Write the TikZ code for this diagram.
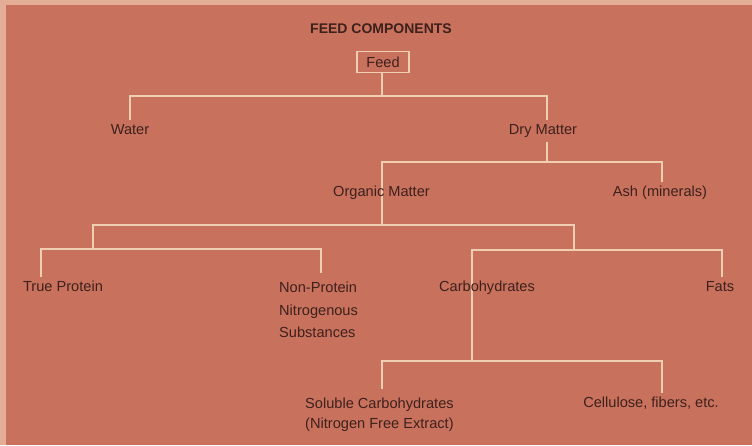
\documentclass[tikz,border=0pt]{standalone}
\usepackage{fontspec}
\setmainfont{Liberation Sans}
\definecolor{bg}{RGB}{200,114,94}
\definecolor{edge}{RGB}{228,174,150}
\definecolor{ln}{RGB}{240,206,178}
\definecolor{ink}{RGB}{62,32,28}
\begin{document}
\begin{tikzpicture}[x=1pt,y=-1pt,
  conn/.style={draw=ln,line width=1.8pt},
  lbl/.style={text=ink,font=\fontsize{14.6}{19}\selectfont,inner xsep=1pt,inner ysep=4pt,text height=10.5pt,text depth=3pt},
  multi/.style={text=ink,align=left,inner sep=0pt,anchor=north west},
  title/.style={text=ink,font=\fontsize{14}{16}\selectfont\bfseries},
  feedbox/.style={draw=ln,line width=1.6pt,fill=bg,text=ink,font=\fontsize{14.6}{17}\selectfont,minimum width=52pt,minimum height=21pt,inner sep=0pt}]
\fill[edge] (0,0) rectangle (752,445);
\fill[bg] (6,5) rectangle (752,445);
\useasboundingbox (0,0) rectangle (752,445);

% junctions
\coordinate (jF) at (382,96);
\coordinate (jD) at (547,162);
\coordinate (jO) at (382,225);
\coordinate (jL) at (93,249);
\coordinate (jR) at (574,250);
\coordinate (jC) at (472,361);

% nodes
\node[title] (ttl) at (381,29) {FEED COMPONENTS};
\node[feedbox] (feed) at (383,62) {Feed};
\node[lbl] (water) at (130,131) {Water};
\node[lbl] (dry) at (543,131) {Dry Matter};
\node[lbl] (org) at (381.5,193) {};
\node[lbl] (ash) at (660,193) {Ash (minerals)};
\node[lbl] (tp) at (63,288) {True Protein};
\node[multi,font=\fontsize{14.6}{22.5}\selectfont] (npn) at (279,282) {Non-Protein\\Nitrogenous\\Substances};
\node[lbl] (carb) at (487,288) {};
\node[lbl] (fats) at (720,288) {Fats};
\node[multi,font=\fontsize{14.6}{19.5}\selectfont] (sol) at (305,398) {Soluble Carbohydrates\\(Nitrogen Free Extract)};
\node[lbl] (cell) at (651,404) {Cellulose, fibers, etc.};

% connectors
\draw[conn] (feed.south -| jF) -- (jF);
\draw[conn] (water.north) |- (jF) -| ([xshift=4pt]dry.north);
\draw[conn] ([xshift=4pt]dry.south) -- (jD);
\draw[conn] (jO) |- (jD) -| ([xshift=2pt]ash.north);
\draw[conn] (jL) |- (jO) -| (jR);
\draw[conn] ([xshift=-22pt]tp.north) |- (jL) -| ([xshift=42pt,yshift=9pt]npn.north west);
\draw[conn] (jC) |- (jR) -| ([xshift=2pt]fats.north);
\draw[conn] ([xshift=77pt,yshift=9pt]sol.north west) |- (jC) -| ([xshift=11pt]cell.north);

% texts drawn over lines passing through
\node[lbl] at (org) {Organic Matter};
\node[lbl] at (carb) {Carbohydrates};
\end{tikzpicture}
\end{document}
